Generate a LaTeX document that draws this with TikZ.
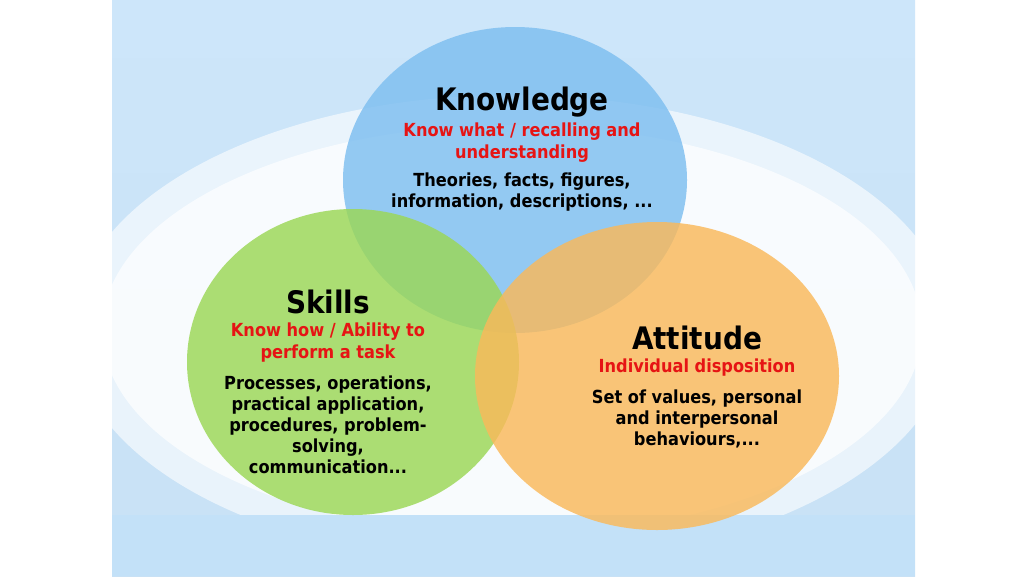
\documentclass[tikz,border=0pt]{standalone}
\usepackage{fontspec}
\setmainfont{DejaVu Sans Condensed}
\definecolor{bgtop}{RGB}{205,230,250}
\definecolor{bgbot}{RGB}{200,225,245}
\definecolor{band}{RGB}{195,225,248}
\definecolor{kblue}{RGB}{125,190,240}
\definecolor{sgreen}{RGB}{155,215,85}
\definecolor{aorange}{RGB}{250,185,90}
\definecolor{tred}{RGB}{230,20,20}
\begin{document}
\begin{tikzpicture}[x=1pt,y=-1pt,
  head/.style={font=\bfseries\fontsize{31}{33}\selectfont, align=center},
  redtxt/.style={text=tred, font=\bfseries\fontsize{18}{22}\selectfont, align=center},
  body/.style={font=\bfseries\fontsize{18}{21}\selectfont, align=center},
  circ/.style={fill opacity=0.82, draw=none}]
\useasboundingbox (0,0) rectangle (1024,576);
\fill[white] (0,0) rectangle (1024,576);
\shade[top color=bgtop, bottom color=bgbot] (112,0) rectangle (915,576);
\fill[white, opacity=0.6] (512,330) ellipse (440 and 235);
\fill[white, opacity=0.7] (512,330) ellipse (410 and 205);
\fill[band] (112,515) rectangle (915,576);
\fill[circ, fill=kblue] (515,180) ellipse (172 and 153);
\fill[circ, fill=sgreen] (353,362) ellipse (166 and 153);
\fill[circ, fill=aorange] (657,376) ellipse (182 and 154);
\node[head] (kh) at (522,102) {Knowledge};
\node[redtxt] (kr) at (522,143) {Know what / recalling and\\understanding};
\node[body] (kb) at (522,192) {Theories, facts, figures,\\information, descriptions, ...};
\node[head] (sh) at (328,302) {Skills};
\node[redtxt] (sr) at (328,343) {Know how / Ability to\\perform a task};
\node[body] (sb) at (328,425) {Processes, operations,\\practical application,\\procedures, problem-\\solving,\\communication...};
\node[head] (ah) at (697,338) {Attitude};
\node[redtxt] (ar) at (697,368) {Individual disposition};
\node[body] (ab) at (697,419) {Set of values, personal\\and interpersonal\\behaviours,...};
\end{tikzpicture}
\end{document}
